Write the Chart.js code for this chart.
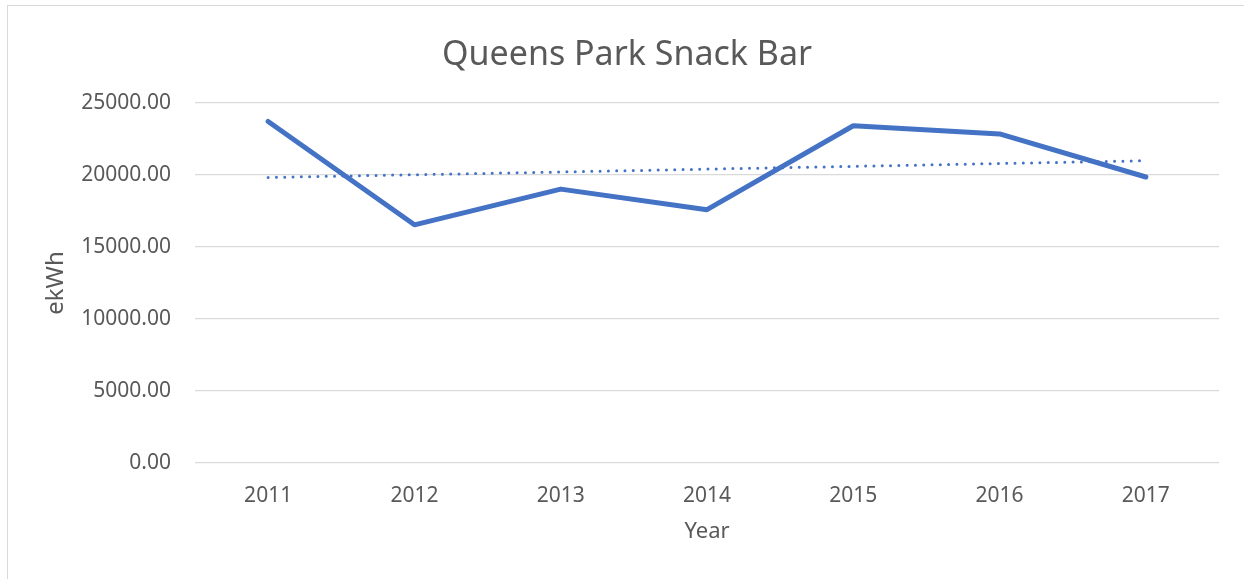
<!DOCTYPE html>
<html>
<head>
<meta charset="utf-8">
<script src="https://cdn.jsdelivr.net/npm/chart.js@4/dist/chart.umd.min.js"></script>
<style>
    html, body { margin: 0; padding: 0; background: #ffffff; overflow: hidden; }
    #frame {
        position: absolute; left: 7px; top: 5px;
        width: 1300px; height: 700px;
        border: 1.5px solid #d9d9d9;
    }
    #wrap { position: absolute; left: 0; top: 0; width: 1244px; height: 579px; }
</style>
</head>
<body>
<div id="frame"></div>
<div id="wrap"><canvas id="snackChart"></canvas></div>
<script>
// Años del eje X
const years = ['2011', '2012', '2013', '2014', '2015', '2016', '2017'];

// Consumo anual (ekWh)
const ekwh = [23720, 16540, 19020, 17590, 23420, 22850, 19860];

// Línea de tendencia (punteada)
const trend = [19830, 20020, 20210, 20410, 20600, 20800, 20990];

// Marcas del eje Y
const yTicks = [0, 5000, 10000, 15000, 20000, 25000];

const fontFamily = '"Noto Sans", "Open Sans", sans-serif';
const grey = '#595959';
const blue = '#4472c4';

const ctx = document.getElementById('snackChart').getContext('2d');

new Chart(ctx, {
    type: 'line',
    data: {
        labels: years,
        datasets: [
            {
                label: 'ekWh',
                data: ekwh,
                borderColor: blue,
                borderWidth: 5,
                borderCapStyle: 'round',
                borderJoinStyle: 'round',
                pointRadius: 0,
                tension: 0
            },
            {
                label: 'Tendencia',
                data: trend,
                borderColor: blue,
                borderWidth: 3,
                borderDash: [0, 8.3],
                borderCapStyle: 'round',
                pointRadius: 0,
                tension: 0
            }
        ]
    },
    options: {
        responsive: true,
        maintainAspectRatio: false,
        animation: false,
        layout: { padding: { left: 35, right: 25, top: 0, bottom: 0 } },
        plugins: {
            legend: { display: false },
            tooltip: { enabled: false },
            title: {
                display: true,
                text: 'Queens Park Snack Bar',
                color: grey,
                font: { family: fontFamily, size: 34, weight: 'normal' },
                padding: { top: 35, bottom: 27.2 }
            }
        },
        scales: {
            x: {
                offset: true,
                grid: { display: false },
                border: { display: false },
                ticks: {
                    color: grey,
                    padding: 12,
                    maxRotation: 0,
                    font: { family: fontFamily, size: 21 }
                },
                title: {
                    display: true,
                    text: 'Year',
                    color: grey,
                    font: { family: fontFamily, size: 22 },
                    padding: { top: 0, bottom: 34 }
                },
                afterFit: (scale) => { scale.height = 116; }
            },
            y: {
                min: 0,
                max: 25000,
                afterBuildTicks: (scale) => {
                    scale.ticks = yTicks.map(v => ({ value: v }));
                },
                grid: { color: '#d9d9d9', lineWidth: 1.3, drawTicks: false },
                border: { display: false },
                ticks: {
                    color: grey,
                    padding: 24,
                    font: { family: fontFamily, size: 21 },
                    callback: (value) => Number(value).toFixed(2)
                },
                title: {
                    display: true,
                    text: 'ekWh',
                    color: grey,
                    font: { family: fontFamily, size: 24 },
                    padding: { top: 6.6, bottom: 0 }
                },
                afterFit: (scale) => { scale.width = 160; }
            }
        }
    }
});
</script>
</body>
</html>
